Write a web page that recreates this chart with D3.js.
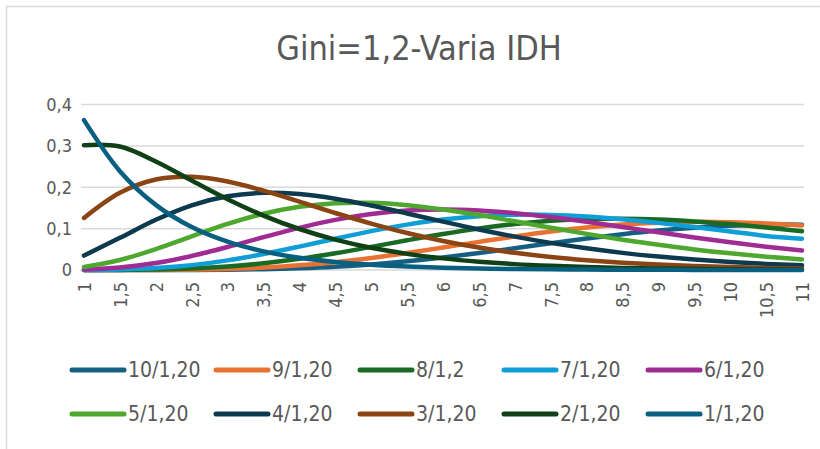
<!DOCTYPE html>
<html>
  <head>
    <meta charset="utf-8">
    <title>Gini=1,2-Varia IDH</title>
    <style>
    body { margin: 0; background: #fff; }
    svg text { font-family: "Liberation Sans Narrow", "DejaVu Sans Condensed", "Roboto", sans-serif; fill: #595959; }
    .grid line { stroke: #d9d9d9; stroke-width: 1.5px; }
    .series path { fill: none; stroke-width: 4.5px; stroke-linecap: round; stroke-linejoin: round; }
    </style>
  </head>
  <body>
    <svg id="chart"></svg>
    <script src="https://d3js.org/d3.v7.min.js"></script>
    <script>
      // categories on the x axis
      var categories = ["1","1,5","2","2,5","3","3,5","4","4,5","5","5,5","6","6,5","7","7,5","8","8,5","9","9,5","10","10,5","11"];
      var yTicks = [0, 0.1, 0.2, 0.3, 0.4];
      var yTickLabels = ["0", "0,1", "0,2", "0,3", "0,4"];

      // series values
      var s10 = [0.0000,0.0000,0.0000,0.0002,0.0007,0.0019,0.0042,0.0079,0.0135,0.0210,0.0302,0.0409,0.0526,0.0645,0.0760,0.0865,0.0954,0.1023,0.1070,0.1094,0.1096];
      var s9 = [0.0000,0.0000,0.0002,0.0009,0.0026,0.0059,0.0112,0.0190,0.0291,0.0411,0.0544,0.0680,0.0811,0.0929,0.1026,0.1099,0.1144,0.1163,0.1155,0.1125,0.1076];
      var s8 = [0.0000,0.0002,0.0011,0.0035,0.0083,0.0161,0.0270,0.0406,0.0559,0.0718,0.0870,0.1005,0.1113,0.1189,0.1232,0.1241,0.1221,0.1175,0.1109,0.1029,0.0939];
      var s7 = [0.0002,0.0013,0.0047,0.0118,0.0232,0.0386,0.0566,0.0757,0.0939,0.1097,0.1219,0.1298,0.1335,0.1332,0.1293,0.1227,0.1139,0.1039,0.0932,0.0823,0.0756];
      var s6 = [0.0012,0.0061,0.0169,0.0339,0.0557,0.0793,0.1019,0.1211,0.1352,0.1436,0.1462,0.1438,0.1374,0.1279,0.1164,0.1039,0.0911,0.0787,0.0671,0.0564,0.0470];
      var s5 = [0.0073,0.0243,0.0506,0.0814,0.1113,0.1360,0.1529,0.1615,0.1623,0.1566,0.1462,0.1328,0.1177,0.1023,0.0873,0.0733,0.0608,0.0497,0.0403,0.0323,0.0256];
      var s4 = [0.0349,0.0777,0.1214,0.1564,0.1781,0.1865,0.1835,0.1723,0.1558,0.1367,0.1170,0.0980,0.0807,0.0655,0.0524,0.0414,0.0324,0.0251,0.0193,0.0147,0.0112];
      var s3 = [0.1258,0.1865,0.2186,0.2252,0.2138,0.1918,0.1652,0.1378,0.1122,0.0895,0.0702,0.0543,0.0415,0.0314,0.0236,0.0175,0.0130,0.0095,0.0070,0.0051,0.0037];
      var s2 = [0.3018,0.2984,0.2623,0.2162,0.1710,0.1315,0.0991,0.0735,0.0538,0.0390,0.0281,0.0201,0.0142,0.0101,0.0071,0.0050,0.0035,0.0024,0.0017,0.0012,0.0008];
      var s1 = [0.3622,0.2388,0.1574,0.1038,0.0684,0.0451,0.0297,0.0196,0.0129,0.0085,0.0056,0.0037,0.0024,0.0016,0.0011,0.0007,0.0005,0.0003,0.0002,0.0001,0.0001];

      var seriesNames = ["10/1,20","9/1,20","8/1,2","7/1,20","6/1,20","5/1,20","4/1,20","3/1,20","2/1,20","1/1,20"];
      var seriesValues = [s10, s9, s8, s7, s6, s5, s4, s3, s2, s1];
      var seriesColors = ["#156082","#e97132","#196b24","#0f9ed5","#a02b93","#4ea72e","#0d3a4e","#8b4413","#0f4016","#095f80"];

      var width = 820, height = 449;
      var svg = d3.select("#chart").attr("width", width).attr("height", height);

      // chart frame
      svg.append("rect")
        .attr("x", 6.5).attr("y", 6.5)
        .attr("width", width + 20).attr("height", height + 20)
        .attr("fill", "#fff")
        .attr("stroke", "#d9d9d9")
        .attr("stroke-width", 1.5);

      svg.append("text")
        .attr("x", 419).attr("y", 60)
        .attr("text-anchor", "middle")
        .style("font-size", "34px")
        .text("Gini=1,2-Varia IDH");

      var x = d3.scalePoint().domain(categories).range([84, 802]);
      var y = d3.scaleLinear().domain([0, 0.4]).range([270, 104.5]);

      var grid = svg.append("g").attr("class", "grid");
      grid.selectAll("line")
        .data(yTicks)
        .enter().append("line")
          .attr("x1", 81).attr("x2", 804)
          .attr("y1", function(d) { return y(d); })
          .attr("y2", function(d) { return y(d); });

      var yAxis = d3.axisLeft(y)
        .tickValues(yTicks)
        .tickSize(0)
        .tickPadding(0)
        .tickFormat(function(d, i) { return yTickLabels[i]; });
      var gy = svg.append("g")
        .attr("transform", "translate(72,0)")
        .call(yAxis);
      gy.select(".domain").remove();
      gy.selectAll("text").style("font-size", "18px").attr("fill", "#595959");

      var xAxis = d3.axisBottom(x).tickSize(0).tickPadding(0);
      var gx = svg.append("g")
        .attr("transform", "translate(0,270)")
        .call(xAxis);
      gx.select(".domain").remove();
      gx.selectAll("text")
        .style("font-size", "18px")
        .attr("fill", "#595959")
        .attr("text-anchor", "end")
        .attr("transform", "translate(0,12) rotate(-90)")
        .attr("x", 0)
        .attr("y", 0)
        .attr("dy", "0.35em");

      var line = d3.line()
        .x(function(d, i) { return x(categories[i]); })
        .y(function(d) { return y(d); })
        .curve(d3.curveCatmullRom.alpha(0.5));

      svg.append("g").attr("class", "series")
        .selectAll("path")
        .data(seriesValues)
        .enter().append("path")
          .attr("stroke", function(d, i) { return seriesColors[i]; })
          .attr("d", line);

      // legend, two rows of five
      var legend = svg.append("g").attr("class", "legend");
      var item = legend.selectAll("g")
        .data(seriesNames)
        .enter().append("g")
          .attr("transform", function(d, i) {
            return "translate(" + (70 + (i % 5) * 144) + "," + (370 + Math.floor(i / 5) * 44) + ")";
          });
      item.append("line")
        .attr("x1", 2).attr("x2", 54)
        .attr("stroke", function(d, i) { return seriesColors[i]; })
        .attr("stroke-width", 5)
        .attr("stroke-linecap", "round");
      item.append("text")
        .attr("x", 58)
        .attr("dy", "0.35em")
        .style("font-size", "21px")
        .text(function(d) { return d; });
    </script>
  </body>
</html>
